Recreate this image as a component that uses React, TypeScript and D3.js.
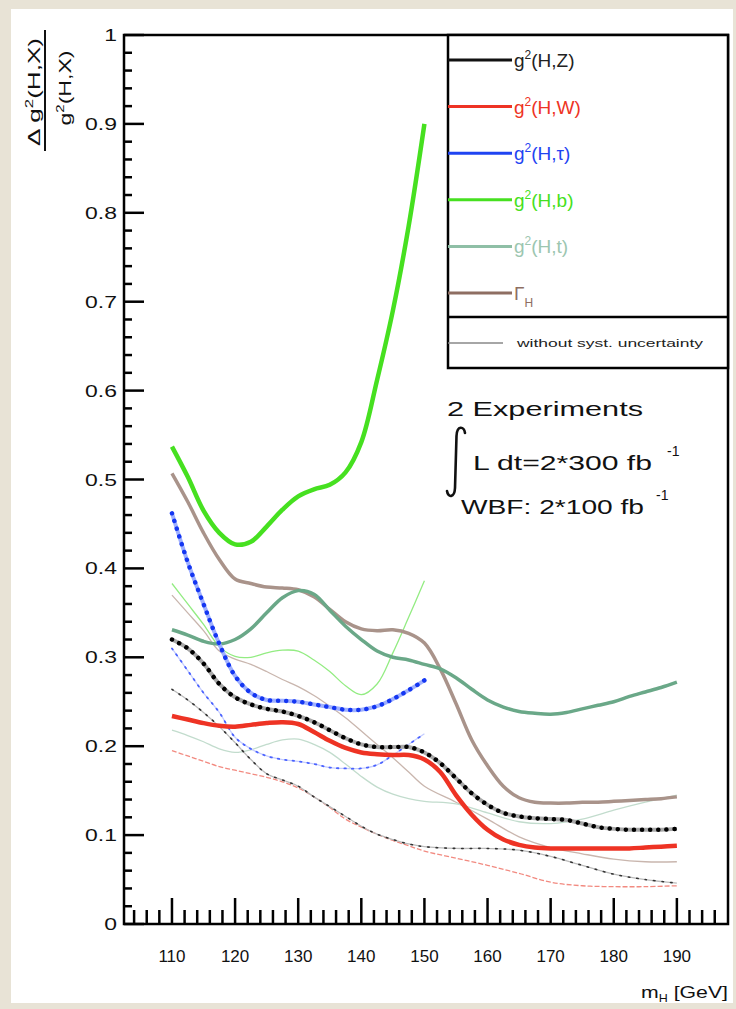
import React from 'react';
import * as d3 from 'd3';

// masses (GeV) for each curve
const massLow = [110, 112.5, 115, 117.5, 120, 122.5, 125, 127.5, 130, 132.5, 135, 137.5, 140, 142.5, 145, 147.5, 150];
const massFull = [110, 112.5, 115, 117.5, 120, 122.5, 125, 127.5, 130, 132.5, 135, 137.5, 140, 142.5, 145, 147.5, 150,
  152.5, 155, 157.5, 160, 162.5, 165, 167.5, 170, 172.5, 175, 177.5, 180, 182.5, 185, 187.5, 190];
const massCoarse = [110, 112.5, 115, 117.5, 120, 122.5, 125, 127.5, 130, 132.5, 135, 137.5, 140, 142.5, 145, 147.5, 150,
  155, 160, 165, 170, 175, 180, 185, 190];

// with systematic uncertainty
const hbVals = [0.537, 0.503, 0.465, 0.44, 0.427, 0.43, 0.447, 0.466, 0.481, 0.489, 0.494, 0.508, 0.542, 0.612, 0.69, 0.785, 0.9];
const htauVals = [0.462, 0.407, 0.36, 0.315, 0.279, 0.26, 0.252, 0.251, 0.25, 0.247, 0.244, 0.241, 0.241, 0.245, 0.253, 0.263, 0.274];
const gammaVals = [0.507, 0.475, 0.44, 0.41, 0.388, 0.383, 0.379, 0.378, 0.376, 0.368, 0.354, 0.34, 0.332, 0.33, 0.331, 0.327, 0.316,
  0.287, 0.248, 0.207, 0.178, 0.155, 0.142, 0.137, 0.136, 0.136, 0.137, 0.137, 0.138, 0.139, 0.14, 0.141, 0.143];
const htVals = [0.331, 0.325, 0.318, 0.315, 0.32, 0.332, 0.35, 0.367, 0.375, 0.371, 0.353, 0.335, 0.32, 0.307, 0.3, 0.297, 0.292,
  0.287, 0.277, 0.264, 0.252, 0.244, 0.239, 0.237, 0.236, 0.238, 0.242, 0.246, 0.25, 0.256, 0.261, 0.266, 0.272];
const hwVals = [0.234, 0.23, 0.226, 0.223, 0.222, 0.224, 0.226, 0.227, 0.225, 0.216, 0.206, 0.198, 0.193, 0.191, 0.19, 0.19, 0.185,
  0.171, 0.145, 0.123, 0.106, 0.095, 0.089, 0.086, 0.085, 0.085, 0.085, 0.085, 0.085, 0.085, 0.086, 0.087, 0.088];
const hzVals = [0.32, 0.31, 0.293, 0.27, 0.255, 0.247, 0.242, 0.239, 0.234, 0.227, 0.218, 0.209, 0.202, 0.199, 0.199, 0.199, 0.193,
  0.181, 0.164, 0.147, 0.134, 0.125, 0.121, 0.119, 0.118, 0.117, 0.113, 0.109, 0.107, 0.106, 0.106, 0.106, 0.107];

// without systematic uncertainty
const hbStat = [0.383, 0.36, 0.337, 0.312, 0.301, 0.3, 0.305, 0.308, 0.307, 0.297, 0.284, 0.268, 0.258, 0.27, 0.305, 0.345, 0.386];
const htauStat = [0.31, 0.285, 0.26, 0.238, 0.21, 0.197, 0.189, 0.185, 0.183, 0.18, 0.176, 0.175, 0.175, 0.179, 0.19, 0.202, 0.214];
const gammaStat = [0.37, 0.35, 0.33, 0.307, 0.298, 0.292, 0.284, 0.275, 0.267, 0.257, 0.245, 0.232, 0.217, 0.202, 0.187, 0.171, 0.155,
  0.137, 0.118, 0.098, 0.086, 0.079, 0.073, 0.07, 0.07];
const htStat = [0.218, 0.212, 0.205, 0.197, 0.193, 0.196, 0.202, 0.207, 0.208, 0.202, 0.193, 0.18, 0.166, 0.154, 0.146, 0.141, 0.138,
  0.135, 0.125, 0.115, 0.113, 0.118, 0.128, 0.137, 0.145];
const hwStat = [0.195, 0.189, 0.183, 0.177, 0.173, 0.169, 0.165, 0.16, 0.153, 0.143, 0.131, 0.118, 0.109, 0.101, 0.094, 0.088, 0.082,
  0.074, 0.066, 0.057, 0.047, 0.043, 0.042, 0.042, 0.043];
const hzStat = [0.264, 0.252, 0.238, 0.222, 0.204, 0.185, 0.169, 0.162, 0.155, 0.143, 0.132, 0.121, 0.11, 0.101, 0.095, 0.09, 0.087,
  0.085, 0.085, 0.083, 0.076, 0.066, 0.056, 0.05, 0.046];

const xMajor = [110, 120, 130, 140, 150, 160, 170, 180, 190];
const yMajor = [0, 0.1, 0.2, 0.3, 0.4, 0.5, 0.6, 0.7, 0.8, 0.9, 1];
const yLabels = ['0', '0.1', '0.2', '0.3', '0.4', '0.5', '0.6', '0.7', '0.8', '0.9', '1'];

const legendItems = [
  { base: 'g', sup: '2', rest: '(H,Z)', color: '#111111', text: '#222222' },
  { base: 'g', sup: '2', rest: '(H,W)', color: '#ee3324', text: '#ee3324' },
  { base: 'g', sup: '2', rest: '(H,τ)', color: '#1f44f2', text: '#1f44f2' },
  { base: 'g', sup: '2', rest: '(H,b)', color: '#46e020', text: '#46e020' },
  { base: 'g', sup: '2', rest: '(H,t)', color: '#8fbfa6', text: '#9cc6b0' },
  { base: 'Γ', sub: 'H', rest: '', color: '#8e6e62', text: '#8e6e62' },
];

const FONT = '"Liberation Sans", Arial, Helvetica, sans-serif';

export default function App() {
  const x = d3.scaleLinear().domain([102.4, 198.1]).range([124, 728]);
  const y = d3.scaleLinear().domain([0, 1]).range([924, 35]);

  const line = d3.line<[number, number]>()
    .x(d => x(d[0]))
    .y(d => y(d[1]))
    .curve(d3.curveCatmullRom.alpha(0.5));

  const path = (ms: number[], vs: number[]) => line(ms.map((m, i) => [m, vs[i]] as [number, number])) || '';

  const xMinor = d3.range(104, 197, 2).filter(m => m % 10 !== 0);
  const yMinor = d3.range(0, 1.0001, 0.02).filter(v => Math.abs(v * 10 - Math.round(v * 10)) > 1e-6);

  return (
    <svg width={736} height={1009} style={{ position: 'absolute', left: 0, top: 0 }} fontFamily={FONT}>
      <rect x={0} y={0} width={736} height={1009} fill="#e8e3d6" />
      <rect x={11} y={9} width={722} height={994} fill="#ffffff" />

      {/* y axis title */}
      <text transform="translate(40,92) rotate(-90)" textAnchor="middle" fontSize={17} fill="#111"
        textLength={108} lengthAdjust="spacingAndGlyphs">
        Δ g<tspan dy={-7} fontSize={11}>2</tspan><tspan dy={7}>(H,X)</tspan>
      </text>
      <line x1={45} x2={45} y1={30} y2={151} stroke="#111" strokeWidth={2} />
      <text transform="translate(71,88) rotate(-90)" textAnchor="middle" fontSize={17} fill="#111"
        textLength={75} lengthAdjust="spacingAndGlyphs">
        g<tspan dy={-7} fontSize={11}>2</tspan><tspan dy={7}>(H,X)</tspan>
      </text>

      {/* thin curves: without syst. uncertainty */}
      <g fill="none">
        <path d={path(massCoarse, gammaStat)} stroke="#c9b6ae" strokeWidth={1.3} />
        <path d={path(massCoarse, htStat)} stroke="#c2dccd" strokeWidth={1.3} />
        <path d={path(massLow, hbStat)} stroke="#93ec82" strokeWidth={1.3} />
        <path d={path(massCoarse, hwStat)} stroke="#f28a80" strokeWidth={1.3} strokeDasharray="5 2" />
        <path d={path(massCoarse, hzStat)} stroke="#bbbbbb" strokeWidth={1.3} />
        <path d={path(massCoarse, hzStat)} stroke="#333" strokeWidth={1.6} strokeDasharray="1.5 7" strokeLinecap="round" />
        <path d={path(massLow, htauStat)} stroke="#c6ceff" strokeWidth={1.3} />
        <path d={path(massLow, htauStat)} stroke="#4a62ff" strokeWidth={1.8} strokeDasharray="1.5 6" strokeLinecap="round" />
      </g>

      {/* thick curves */}
      <g fill="none">
        <path d={path(massFull, gammaVals)} stroke="#a9938a" strokeWidth={3.5} />
        <path d={path(massFull, htVals)} stroke="#6aa888" strokeWidth={3.5} />
        <path d={path(massLow, hbVals)} stroke="#46e020" strokeWidth={4.5} />
        <path d={path(massFull, hwVals)} stroke="#ee3324" strokeWidth={4.5} />
        <path d={path(massFull, hzVals)} stroke="#a8a8a8" strokeWidth={4} />
        <path d={path(massFull, hzVals)} stroke="#000" strokeWidth={4.5} strokeDasharray="0.1 8" strokeLinecap="round" />
        <path d={path(massLow, htauVals)} stroke="#9fb0ff" strokeWidth={4} />
        <path d={path(massLow, htauVals)} stroke="#1436f2" strokeWidth={4.5} strokeDasharray="0.1 8" strokeLinecap="round" />
      </g>

      {/* axes ticks */}
      <g stroke="#000" strokeWidth={2.5}>
        {xMajor.map(m => <line key={'xM' + m} x1={x(m)} x2={x(m)} y1={924} y2={898} />)}
        {xMinor.map(m => <line key={'xm' + m} x1={x(m)} x2={x(m)} y1={924} y2={910} />)}
        {yMajor.map(v => <line key={'yM' + v} x1={124} x2={144} y1={y(v)} y2={y(v)} />)}
        {yMinor.map(v => <line key={'ym' + v} x1={124} x2={132} y1={y(v)} y2={y(v)} />)}
      </g>
      <rect x={124} y={35} width={604} height={889} fill="none" stroke="#000" strokeWidth={2.5} />

      {/* tick labels */}
      <g fontSize={17} fill="#111">
        {xMajor.map(m => <text key={'xl' + m} x={x(m)} y={962} textAnchor="middle">{m}</text>)}
        {yMajor.map((v, i) => (
          <text key={'yl' + v} transform={`translate(117,${y(v) + 6}) scale(1.35,1)`} textAnchor="end">{yLabels[i]}</text>
        ))}
      </g>
      <text transform="translate(728,998) scale(1.25,1)" textAnchor="end" fontSize={17} fill="#111">
        m<tspan dy={4} fontSize={10}>H</tspan><tspan dy={-4}> [GeV]</tspan>
      </text>

      {/* legend */}
      <rect x={448} y={35} width={280} height={333} fill="#fff" stroke="#000" strokeWidth={2.5} />
      <line x1={448} x2={728} y1={317} y2={317} stroke="#000" strokeWidth={2.5} />
      {legendItems.map((it, i) => {
        const ly = 60 + i * 46.6;
        return (
          <g key={'lg' + i}>
            <line x1={448} x2={512} y1={ly} y2={ly} stroke={it.color} strokeWidth={3} />
            <text x={514} y={ly + 7} fontSize={19} fill={it.text}>
              {it.base}
              {it.sup ? <tspan dy={-8} fontSize={12}>{it.sup}</tspan> : null}
              {it.sub ? <tspan dy={7} fontSize={12}>{it.sub}</tspan> : null}
              {it.rest ? <tspan dy={it.sup ? 8 : 0}>{it.rest}</tspan> : null}
            </text>
          </g>
        );
      })}
      <line x1={448} x2={503} y1={343} y2={343} stroke="#888" strokeWidth={1.5} />
      <text x={517} y={347} fontSize={11} fill="#222" textLength={186} lengthAdjust="spacingAndGlyphs">without syst. uncertainty</text>

      {/* annotation */}
      <g fill="#111" fontSize={21}>
        <text x={447} y={416} textLength={196} lengthAdjust="spacingAndGlyphs">2 Experiments</text>
        <path d="M465,433 C464,426 457,425 456.5,436 L455,488 C454.5,498 448,498 447,491"
          fill="none" stroke="#111" strokeWidth={2.6} strokeLinecap="round" />
        <text x={473} y={470} textLength={179} lengthAdjust="spacingAndGlyphs">L dt=2*300 fb</text>
        <text x={667} y={456} fontSize={14}>-1</text>
        <text x={461} y={514} textLength={183} lengthAdjust="spacingAndGlyphs">WBF: 2*100 fb</text>
        <text x={656} y={500} fontSize={14}>-1</text>
      </g>
    </svg>
  );
}
